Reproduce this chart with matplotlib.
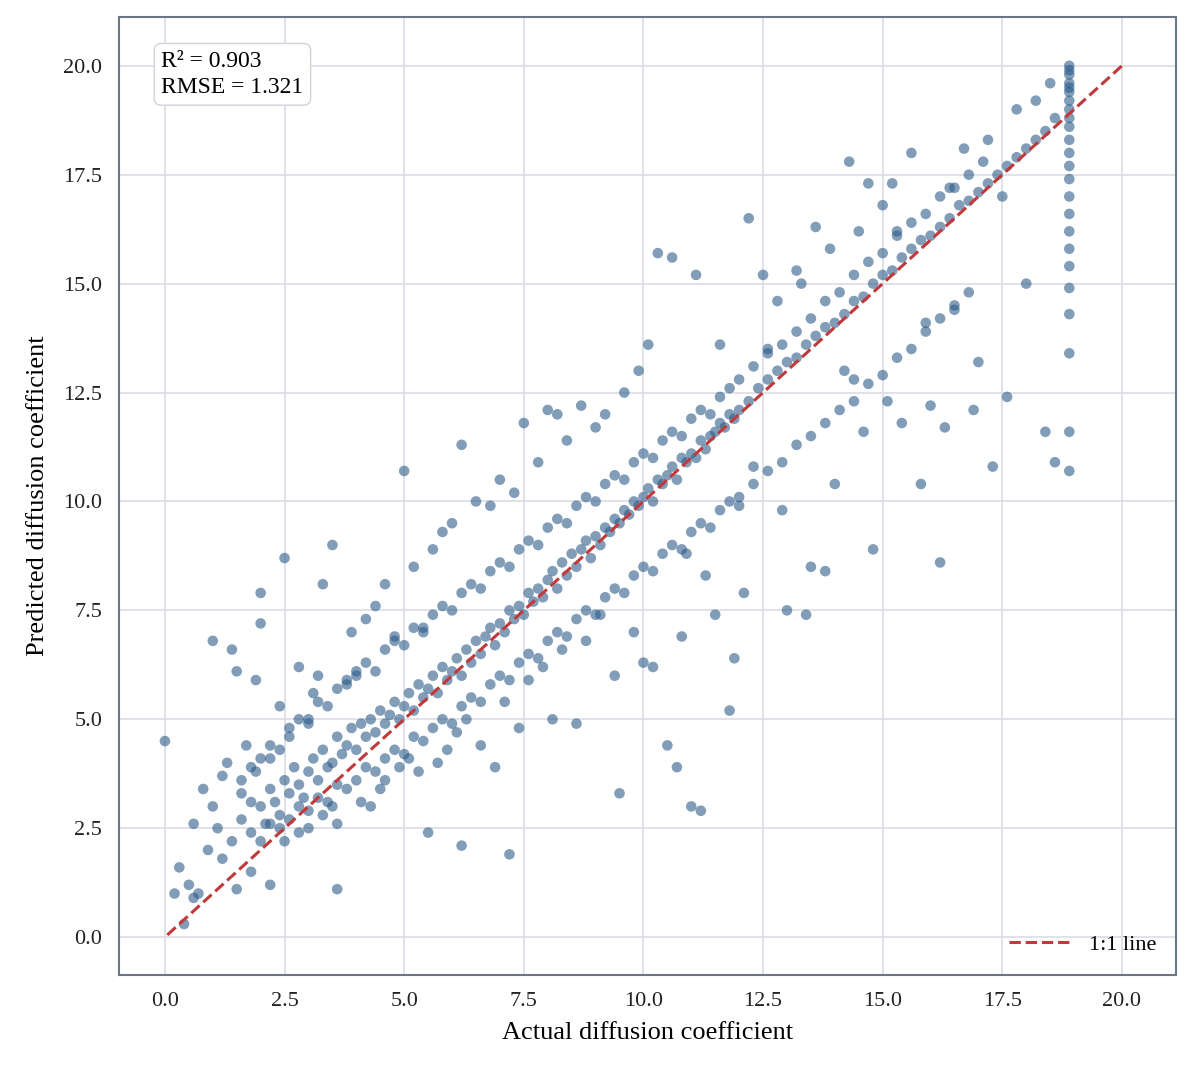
import matplotlib
matplotlib.use("Agg")
import matplotlib.pyplot as plt

# Hand-read points (approximate) : core cloud along diagonal
core_x = [2.0,2.1,2.2,2.3,2.4,2.5,2.6,2.7,2.8,2.9,3.0,3.1,3.2,3.3,3.4,3.5,3.6,3.7,3.8,3.9,
          4.0,4.1,4.2,4.3,4.4,4.5,4.6,4.7,4.8,4.9,5.0,5.1,5.2,5.3,5.4,5.5,5.6,5.7,5.8,5.9,
          6.0,6.1,6.2,6.3,6.4,6.5,6.6,6.7,6.8,6.9,7.0,7.1,7.2,7.3,7.4,7.5,7.6,7.7,7.8,7.9,
          8.0,8.1,8.2,8.3,8.4,8.5,8.6,8.7,8.8,8.9,9.0,9.1,9.2,9.3,9.4,9.5,9.6,9.7,9.8,9.9,
          10.0,10.1,10.2,10.3,10.4,10.5,10.6,10.7,10.8,10.9,11.0,11.1,11.2,11.3,11.4,11.5,11.6,11.7,11.8,11.9,
          12.0,12.2,12.4,12.6,12.8,13.0,13.2,13.4,13.6,13.8,14.0,14.2,14.4,14.6,14.8,15.0,15.2,15.4,15.6,15.8,
          16.0,16.2,16.4,16.6,16.8,17.0,17.2,17.4,17.6,17.8,18.0,18.2,18.4,18.6]
core_y = [3.0,2.6,3.4,3.1,2.8,3.6,3.3,3.9,3.5,3.2,3.8,4.1,3.6,4.3,3.9,4.0,4.6,4.2,4.4,4.8,
          4.3,4.9,4.6,5.0,4.7,5.2,4.9,5.1,5.4,5.0,5.3,5.6,5.2,5.8,5.5,5.7,6.0,5.6,6.2,5.9,
          6.1,6.4,6.0,6.6,6.3,6.8,6.5,6.9,7.1,6.7,7.2,7.0,7.5,7.3,7.6,7.4,7.9,7.7,8.0,7.8,
          8.2,8.4,8.0,8.6,8.3,8.8,8.5,8.9,9.1,8.7,9.2,9.0,9.4,9.3,9.6,9.5,9.8,9.7,10.0,9.9,
          10.1,10.3,10.0,10.5,10.4,10.6,10.8,10.5,11.0,10.9,11.1,11.0,11.4,11.2,11.5,11.6,11.8,11.7,12.0,11.9,
          12.1,12.3,12.6,12.8,13.0,13.2,13.3,13.6,13.8,14.0,14.1,14.3,14.6,14.7,15.0,15.2,15.3,15.6,15.8,16.0,
          16.1,16.3,16.5,16.8,16.9,17.1,17.3,17.5,17.7,17.9,18.1,18.3,18.5,18.8]

# band above the diagonal
upper_x = [1.6,1.8,2.0,2.2,2.4,2.6,2.8,3.0,3.2,3.4,3.6,3.8,4.0,4.2,4.4,4.6,4.8,5.0,5.2,5.4,
           5.6,5.8,6.0,6.2,6.4,6.6,6.8,7.0,7.2,7.4,7.6,7.8,8.0,8.2,8.4,8.6,8.8,9.0,9.2,9.4,
           9.6,9.8,10.0,10.2,10.4,10.6,10.8,11.0,11.2,11.4,11.6,11.8,12.0,12.3,12.6,12.9,13.2,13.5,13.8,14.1,
           14.4,14.7,15.0,15.3,15.6,15.9,16.2,16.5,16.8,17.1]
upper_y = [3.6,3.9,4.1,4.4,4.3,4.8,5.0,4.9,5.4,5.3,5.7,5.9,6.0,6.3,6.1,6.6,6.8,6.7,7.1,7.0,
           7.4,7.6,7.5,7.9,8.1,8.0,8.4,8.6,8.5,8.9,9.1,9.0,9.4,9.6,9.5,9.9,10.1,10.0,10.4,10.6,
           10.5,10.9,11.1,11.0,11.4,11.6,11.5,11.9,12.1,12.0,12.4,12.6,12.8,13.1,13.4,13.6,13.9,14.2,14.6,14.8,
           15.2,15.5,15.7,16.1,16.4,16.6,17.0,17.2,17.5,17.8]

# band below the diagonal
lower_x = [1.8,2.0,2.2,2.4,2.6,2.8,3.0,3.2,3.4,3.6,3.8,4.0,4.2,4.4,4.6,4.8,5.0,5.2,5.4,5.6,
           5.8,6.0,6.2,6.4,6.6,6.8,7.0,7.2,7.4,7.6,7.8,8.0,8.2,8.4,8.6,8.8,9.0,9.2,9.4,9.6,
           9.8,10.0,10.2,10.4,10.6,10.8,11.0,11.2,11.4,11.6,11.8,12.0,12.3,12.6,12.9,13.2,13.5,13.8,14.1,14.4,
           14.7,15.0,15.3,15.6,15.9,16.2,16.5,16.8]
lower_y = [2.4,2.2,2.6,2.5,2.7,3.0,2.9,3.2,3.1,3.5,3.4,3.6,3.9,3.8,4.1,4.3,4.2,4.6,4.5,4.8,
           5.0,4.9,5.3,5.5,5.4,5.8,6.0,5.9,6.3,6.5,6.4,6.8,7.0,6.9,7.3,7.5,7.4,7.8,8.0,7.9,
           8.3,8.5,8.4,8.8,9.0,8.9,9.3,9.5,9.4,9.8,10.0,10.1,10.4,10.7,10.9,11.3,11.5,11.8,12.1,12.3,
           12.7,12.9,13.3,13.5,13.9,14.2,14.4,14.8]

# spread points around the cloud (upper and lower sides)
spread_x = [0.0,0.2,0.3,0.4,0.5,0.6,0.6,0.7,0.8,0.9,1.0,1.0,1.1,1.2,1.2,1.3,1.4,1.4,1.5,1.5,
            1.6,1.6,1.7,1.8,1.8,1.9,1.9,2.0,2.0,2.2,2.2,2.4,2.5,2.5,2.6,2.8,2.8,3.0,3.0,3.1,
            3.2,3.3,3.3,3.5,3.5,3.6,3.6,3.8,3.9,4.0,4.1,4.2,4.3,4.4,4.5,4.6,4.6,4.8,4.9,5.0,
            5.1,5.2,5.3,5.4,5.5,5.6,5.7,5.8,5.9,6.0,6.1,6.2,6.2,6.3,6.5,6.6,6.8,6.9,7.0,7.1,
            7.2,7.3,7.4,7.5,7.6,7.8,7.9,8.0,8.1,8.2,8.3,8.4,8.6,8.7,8.8,9.0,9.1,9.2,9.4,9.5,
            9.6,9.8,9.9,10.0,10.1,10.2,10.3,10.5,10.6,10.7,10.8,10.9,11.0,11.1,11.2,11.3,11.5,11.6,11.8,11.9,
            12.0,12.1,12.2,12.3,12.5,12.6,12.8,12.9,13.0,13.2,13.4,13.5,13.6,13.8,13.9,14.0,14.2,14.3,14.5,14.6,
            14.7,14.8,15.0,15.1,15.2,15.4,15.6,15.8,15.9,16.0,16.2,16.4,16.5,16.7,16.9,17.0,17.2,17.3,17.5,17.8,
            18.0,18.2,18.4,18.5,18.6,17.6,16.3,15.3,14.4,13.3]
spread_y = [4.5,1.0,1.6,0.3,1.2,0.9,2.6,1.0,3.4,2.0,3.0,6.8,2.5,1.8,3.7,4.0,2.2,6.6,6.1,1.1,
            3.3,2.7,4.4,3.1,1.5,5.9,3.8,7.9,7.2,4.1,1.2,5.3,8.7,2.2,4.6,6.2,2.4,2.5,5.0,5.6,
            6.0,8.1,2.8,9.0,3.0,1.1,2.6,5.8,7.0,6.1,3.1,7.3,3.0,7.6,3.4,8.1,3.6,6.9,3.9,10.7,
            4.1,8.5,3.8,7.1,2.4,8.9,4.0,9.3,4.3,9.5,4.7,11.3,2.1,5.0,10.0,4.4,9.9,3.9,10.5,5.4,
            1.9,10.2,4.8,11.8,5.9,10.9,6.2,12.1,5.0,12.0,6.6,11.4,4.9,12.2,6.8,11.7,7.4,12.0,6.0,3.3,
            12.5,7.0,13.0,6.3,13.6,6.2,15.7,4.4,15.6,3.9,6.9,8.8,3.0,15.2,2.9,8.3,7.4,13.6,5.2,6.4,
            9.9,7.9,16.5,10.8,15.2,13.5,14.6,9.8,7.5,15.3,7.4,8.5,16.3,8.4,15.8,10.4,13.0,17.8,16.2,11.6,
            17.3,8.9,16.8,12.3,17.3,11.8,18.0,10.4,14.1,12.2,8.6,17.2,14.5,18.1,12.1,13.2,18.3,10.8,17.0,19.0,
            15.0,19.2,11.6,19.6,10.9,12.4,11.7,16.2,12.8,15.0]

# vertical column at the largest actual value
col_x = [18.9]*24
col_y = [10.7,11.6,13.4,14.3,14.9,15.4,15.8,16.2,16.6,17.0,17.4,17.7,18.0,18.3,18.6,18.8,
         19.0,19.2,19.4,19.5,19.6,19.8,19.9,20.0]

xs = core_x + upper_x + lower_x + spread_x + col_x
ys = core_y + upper_y + lower_y + spread_y + col_y

plt.rcParams['font.family'] = ['Liberation Serif', 'DejaVu Serif']
fig = plt.figure(figsize=(11.92, 10.69), dpi=100)
ax = fig.add_axes([119/1192, 1-975/1069, (1176-119)/1192, (975-17)/1069])
ax.set_axisbelow(True)
ax.grid(True, color='#dcdce6', linewidth=1.2)
ax.scatter(xs, ys, s=58, color='#2d5c8a', alpha=0.6, edgecolors='none')
ax.plot([0.05, 20.05], [0.05, 20.05], '--', color='#c0393b', linewidth=2.2, label='1:1 line')
ax.set_xlim(-0.96, 21.13)
ax.set_ylim(-0.87, 21.12)
ticks = [0.0, 2.5, 5.0, 7.5, 10.0, 12.5, 15.0, 17.5, 20.0]
ax.set_xticks(ticks)
ax.set_yticks(ticks)
ax.set_xticklabels([f"{t:.1f}" for t in ticks])
ax.set_yticklabels([f"{t:.1f}" for t in ticks])
ax.tick_params(labelsize=16, length=0, pad=12, colors='#222222')
for s in ax.spines.values():
    s.set_color('#6b7785'); s.set_linewidth(1.5)
ax.set_xlabel('Actual diffusion coefficient', fontsize=19, labelpad=8)
ax.set_ylabel('Predicted diffusion coefficient', fontsize=19, labelpad=10)
ax.text(0.04, 0.965, 'R² = 0.903\nRMSE = 1.321', transform=ax.transAxes, fontsize=17,
        va='top', ha='left', linespacing=1.35,
        bbox=dict(boxstyle='round,pad=0.3', facecolor='white', edgecolor='#cfd3da'))
leg = ax.legend(loc='lower right', fontsize=16, frameon=False, handlelength=2.8)
fig.savefig('out.png', dpi=100, facecolor='white')
